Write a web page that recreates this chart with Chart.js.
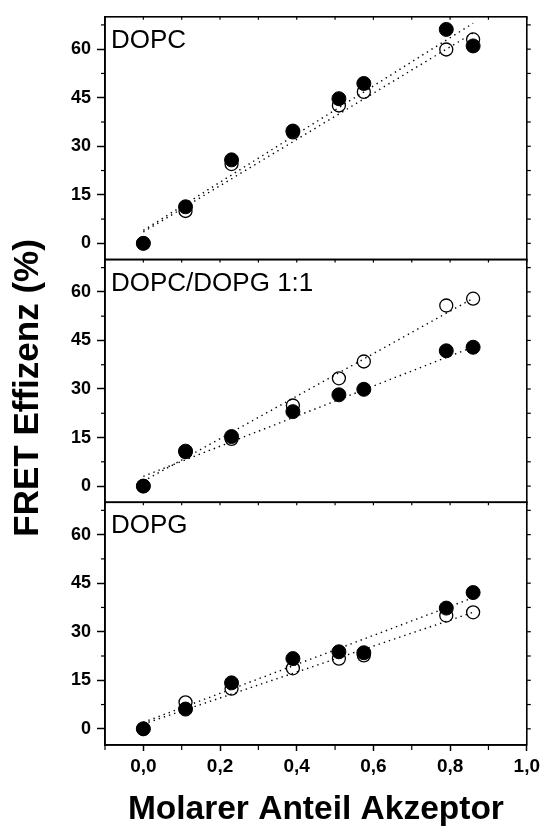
<!DOCTYPE html>
<html>
<head>
<meta charset="utf-8">
<script src="https://cdn.jsdelivr.net/npm/chart.js@4"></script>
<style>
  html, body { margin: 0; padding: 0; background: #fff; }
  #wrap { width: 544px; height: 827px; }
</style>
</head>
<body>
<div id="wrap"><canvas id="chart"></canvas></div>
<script>
// Molarer Anteil Akzeptor
const xValues = [0, 0.11, 0.23, 0.39, 0.51, 0.575, 0.79, 0.86];
const panelNames = ['DOPC', 'DOPC/DOPG 1:1', 'DOPG'];

// FRET Effizenz (%): offene / gefuellte Kreise
const dopcOpen   = [0, 10.0, 24.5, 34.3, 42.6, 46.8, 59.9, 63.0];
const dopcFilled = [0, 11.3, 25.8, 34.7, 44.7, 49.4, 66.1, 61.0];
const mixOpen    = [0, 10.5, 14.6, 24.9, 33.3, 38.5, 55.8, 57.9];
const mixFilled  = [0, 10.8, 15.3, 23.0, 28.2, 29.9, 41.8, 42.9];
const dopgOpen   = [0, 8.2, 12.4, 18.7, 21.7, 22.7, 35.0, 36.0];
const dopgFilled = [0, 6.1, 14.2, 21.7, 23.8, 23.5, 37.3, 42.1];

const fitX = [0, 0.86];
const dopcOpenFit   = [3.5, 65.0];
const dopcFilledFit = [4.0, 68.0];
const mixOpenFit    = [1.5, 58.0];
const mixFilledFit  = [3.0, 43.0];
const dopgOpenFit   = [1.5, 36.0];
const dopgFilledFit = [2.0, 40.5];

// Achsen
const xTicks = [0, 0.2, 0.4, 0.6, 0.8, 1.0];
const xMinorTicks = [-0.1, 0.1, 0.3, 0.5, 0.7, 0.9];
const yTicks = [0, 15, 30, 45, 60];
const yMinorTicks = [7.5, 22.5, 37.5, 52.5, 67.5];
const yTitle = 'FRET Effizenz (%)';

const FONT = '"Liberation Sans", Arial, sans-serif';
const panelIds = ['y1', 'y2', 'y3']; // von oben nach unten

const pts = (xs, ys) => ys.map((y, i) => ({ x: xs[i], y: y }));

function filled(ys, axis) {
  return { data: pts(xValues, ys), yAxisID: axis, pointRadius: 7, pointBackgroundColor: '#000',
    pointBorderColor: '#000', pointBorderWidth: 1, showLine: false };
}
function open(ys, axis) {
  return { data: pts(xValues, ys), yAxisID: axis, pointRadius: 6.5, pointBackgroundColor: 'rgba(0,0,0,0)',
    pointBorderColor: '#000', pointBorderWidth: 1.3, showLine: false };
}
function fit(ys, axis) {
  return { data: pts(fitX, ys), yAxisID: axis, showLine: true, pointRadius: 0, borderColor: '#000',
    borderWidth: 1.4, borderDash: [1.4, 4], fill: false };
}

// erstes Dataset wird zuletzt (oben) gezeichnet
const datasets = [
  filled(dopcFilled, 'y1'), filled(mixFilled, 'y2'), filled(dopgFilled, 'y3'),
  open(dopcOpen, 'y1'), open(mixOpen, 'y2'), open(dopgOpen, 'y3'),
  fit(dopcOpenFit, 'y1'), fit(dopcFilledFit, 'y1'),
  fit(mixOpenFit, 'y2'), fit(mixFilledFit, 'y2'),
  fit(dopgOpenFit, 'y3'), fit(dopgFilledFit, 'y3'),
];

function yScale() {
  return {
    type: 'linear', position: 'left', stack: 'panels', offset: false,
    min: -5, max: 70,
    afterBuildTicks: s => { s.ticks = yTicks.map(v => ({ value: v })); },
    afterFit: s => { s.width = 105; },
    ticks: { color: '#000', padding: 6, font: { family: FONT, size: 18, weight: 'bold' } },
    grid: { drawOnChartArea: false, tickLength: 8, tickColor: '#000', tickWidth: 1.5 },
    border: { display: true, color: '#000', width: 1.5 }
  };
}

// Rahmen, Nebenstriche und Beschriftung der Panels
const panelPlugin = {
  id: 'panels',
  afterDraw(chart) {
    const { ctx, chartArea } = chart;
    const { left, right, top, bottom } = chartArea;
    const xs = chart.scales.x;
    const seg = (x1, y1, x2, y2) => { ctx.beginPath(); ctx.moveTo(x1, y1); ctx.lineTo(x2, y2); ctx.stroke(); };
    ctx.save();
    ctx.strokeStyle = '#000';
    ctx.fillStyle = '#000';
    panelIds.forEach((id, i) => {
      const s = chart.scales[id];
      ctx.lineWidth = 1.2;
      yMinorTicks.forEach(v => { const p = s.getPixelForValue(v); seg(left - 4, p, left, p); });
      yTicks.concat(yMinorTicks).forEach(v => { const p = s.getPixelForValue(v); seg(right, p, right + 4, p); });
      xTicks.concat(xMinorTicks).forEach(v => { const p = xs.getPixelForValue(v); seg(p, s.top, p, s.top + 3); });
      ctx.lineWidth = 1.6;
      ctx.strokeRect(left, s.top, right - left, s.bottom - s.top);
      ctx.font = '26px ' + FONT;
      ctx.textAlign = 'left';
      ctx.textBaseline = 'alphabetic';
      ctx.fillText(panelNames[i], left + 6, s.top + 31);
    });
    ctx.lineWidth = 1.2;
    xMinorTicks.forEach(v => { const p = xs.getPixelForValue(v); seg(p, bottom, p, bottom + 5); });
    // y-Achsentitel ueber alle Panels
    ctx.translate(28, (top + bottom) / 2 + 7);
    ctx.rotate(-Math.PI / 2);
    ctx.font = 'bold 35px ' + FONT;
    ctx.textAlign = 'center';
    ctx.textBaseline = 'middle';
    ctx.fillText(yTitle, 0, 0);
    ctx.restore();
  }
};

new Chart(document.getElementById('chart'), {
  type: 'scatter',
  data: { datasets: datasets },
  options: {
    responsive: true,
    maintainAspectRatio: false,
    animation: false,
    layout: { padding: { top: 16, right: 16, bottom: 0, left: 0 } },
    plugins: { legend: { display: false }, tooltip: { enabled: false } },
    scales: {
      x: {
        type: 'linear', position: 'bottom', min: -0.1, max: 1.0,
        afterBuildTicks: s => { s.ticks = xTicks.map(v => ({ value: v })); },
        afterFit: s => { s.height = 82; },
        ticks: {
          color: '#000', padding: 4, maxRotation: 0, autoSkip: false,
          font: { family: FONT, size: 19, weight: 'bold' },
          callback: v => Number(v).toFixed(1).replace('.', ',')
        },
        grid: { drawOnChartArea: false, tickLength: 6, tickColor: '#000', tickWidth: 1.5 },
        border: { display: true, color: '#000', width: 1.5 },
        title: {
          display: true, text: 'Molarer Anteil Akzeptor', color: '#000',
          font: { family: FONT, size: 33.5, weight: 'bold', lineHeight: 1 },
          padding: { top: 14, bottom: 0 }
        }
      },
      // gestapelte Achsen werden in umgekehrter Reihenfolge von oben platziert
      y3: yScale(),
      y2: yScale(),
      y1: yScale()
    }
  },
  plugins: [panelPlugin]
});
</script>
</body>
</html>
